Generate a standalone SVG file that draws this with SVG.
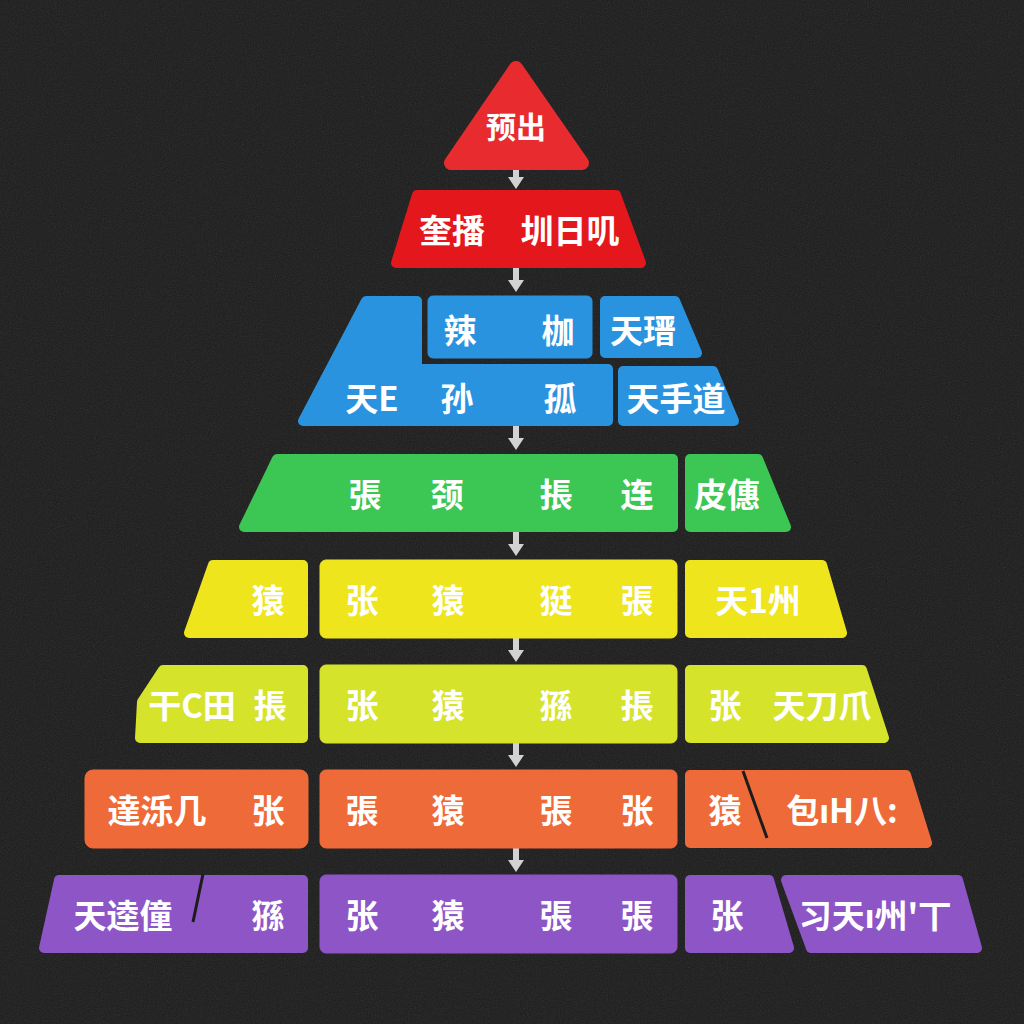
<svg xmlns="http://www.w3.org/2000/svg" width="1024" height="1024" viewBox="0 0 1024 1024">
<defs>
<filter id="noise" x="0" y="0" width="100%" height="100%">
<feTurbulence type="fractalNoise" baseFrequency="0.85" numOctaves="2" stitchTiles="stitch"/>
<feColorMatrix type="saturate" values="0"/>
</filter>
<marker id="ah" viewBox="0 0 12 16" refX="2" refY="8" markerWidth="12" markerHeight="16" markerUnits="userSpaceOnUse" orient="auto">
<path d="M0,0 L12,8 L0,16 Z" fill="#d2d2d2"/>
</marker>
<style>
.t{font-family:"Noto Sans CJK SC","Noto Sans",sans-serif;font-weight:700;fill:#ffffff;font-size:33px;text-anchor:middle;dominant-baseline:central}
.r{stroke-linejoin:round;stroke-width:10}
.red{fill:#e3171c;stroke:#e3171c}
.blue{fill:#2a93df;stroke:#2a93df}
.green{fill:#3cc653;stroke:#3cc653}
.yel{fill:#eee51c;stroke:#eee51c}
.lime{fill:#d6e32b;stroke:#d6e32b}
.org{fill:#ef6a39;stroke:#ef6a39}
.pur{fill:#8e55c7;stroke:#8e55c7}
.slit{stroke:#1c1c1c;stroke-width:3;fill:none}
.c{stroke:#d2d2d2;stroke-width:6;fill:none}
</style>
</defs>
<rect width="1024" height="1024" fill="#1b1b1b"/>
<rect width="1024" height="1024" filter="url(#noise)" opacity="0.13"/>

<g id="connectors">
<path class="c" d="M516,168 V179" marker-end="url(#ah)"/>
<path class="c" d="M516,268 V282" marker-end="url(#ah)"/>
<path class="c" d="M516,426 V440" marker-end="url(#ah)"/>
<path class="c" d="M516,532 V546" marker-end="url(#ah)"/>
<path class="c" d="M516,638 V652" marker-end="url(#ah)"/>
<path class="c" d="M516,743 V757" marker-end="url(#ah)"/>
<path class="c" d="M516,848 V862" marker-end="url(#ah)"/>
</g>

<g id="top">
<polygon class="red r" style="fill:#e82b2e;stroke:#e82b2e;stroke-width:14" points="516,68 451,163 582,163"/>
<text class="t" x="516" y="125" style="font-size:30px">预出</text>
</g>

<g id="row2">
<polygon class="red r" points="417,195 616,195 641,263 396,263"/>
<text class="t" x="452" y="229">奎播</text>
<text class="t" x="570" y="229">圳日叽</text>
</g>

<g id="row3">
<polygon class="blue r" points="366,301 417,301 417,369 608,369 608,421 303,421"/>
<rect class="blue" x="428" y="296" width="164" height="62" rx="5"/>
<polygon class="blue r" points="605,301 675,301 697,353 605,353"/>
<polygon class="blue r" points="623,371 713,371 734,421 623,421"/>
<text class="t" x="460" y="329">辣</text>
<text class="t" x="558" y="329">枷</text>
<text class="t" x="643" y="329">天瑨</text>
<text class="t" x="372" y="397">天E</text>
<text class="t" x="457" y="397">孙</text>
<text class="t" x="560" y="397">孤</text>
<text class="t" x="676" y="397">天手道</text>
</g>

<g id="row4">
<polygon class="green r" points="277,459 673,459 673,527 244,527"/>
<polygon class="green r" points="690,459 758,459 786,527 690,527"/>
<text class="t" x="365" y="493">張</text>
<text class="t" x="447" y="493">颈</text>
<text class="t" x="556" y="493">掁</text>
<text class="t" x="637" y="493">连</text>
<text class="t" x="727" y="493">皮僡</text>
</g>

<g id="row5">
<polygon class="yel r" points="213,565 303,565 303,633 189,633"/>
<rect class="yel" x="320" y="560" width="357" height="78" rx="6"/>
<polygon class="yel r" points="690,565 822,565 842,633 690,633"/>
<text class="t" x="268" y="599">猿</text>
<text class="t" x="362" y="599">张</text>
<text class="t" x="448" y="599">猿</text>
<text class="t" x="556" y="599">㹶</text>
<text class="t" x="637" y="599">張</text>
<text class="t" x="758" y="599">天1州</text>
</g>

<g id="row6">
<polygon class="lime r" points="163,670 303,670 303,738 140,738 142,702"/>
<rect class="lime" x="320" y="665" width="357" height="78" rx="6"/>
<polygon class="lime r" points="690,670 862,670 884,738 690,738"/>
<text class="t" x="192" y="704">干C田</text>
<text class="t" x="270" y="704">掁</text>
<text class="t" x="362" y="704">张</text>
<text class="t" x="448" y="704">猿</text>
<text class="t" x="556" y="704">猻</text>
<text class="t" x="637" y="704">掁</text>
<text class="t" x="725" y="704">张</text>
<text class="t" x="822" y="704">天刀爪</text>
</g>

<g id="row7">
<rect class="org" x="85" y="770" width="223" height="78" rx="8"/>
<rect class="org" x="320" y="770" width="357" height="78" rx="6"/>
<polygon class="org r" points="690,775 906,775 927,843 690,843"/>
<path class="slit" d="M743,771 L767,838"/>
<text class="t" x="157" y="809">達泺几</text>
<text class="t" x="268" y="809">张</text>
<text class="t" x="362" y="809">張</text>
<text class="t" x="448" y="809">猿</text>
<text class="t" x="556" y="809">張</text>
<text class="t" x="637" y="809">张</text>
<text class="t" x="725" y="809">猿</text>
<text class="t" x="842" y="809">包ıH八:</text>
</g>

<g id="row8">
<polygon class="pur r" points="59,880 303,880 303,948 44,948"/>
<path class="slit" d="M203,874 L193,922"/>
<rect class="pur" x="320" y="875" width="357" height="78" rx="6"/>
<polygon class="pur r" points="690,880 769,880 789,948 690,948"/>
<polygon class="pur r" points="786,880 958,880 977,948 811,948"/>
<text class="t" x="123" y="914">天逵僮</text>
<text class="t" x="268" y="914">猻</text>
<text class="t" x="362" y="914">张</text>
<text class="t" x="448" y="914">猿</text>
<text class="t" x="556" y="914">張</text>
<text class="t" x="637" y="914">張</text>
<text class="t" x="727" y="914">张</text>
<text class="t" x="875" y="914">习天ı州'丅</text>
</g>
</svg>
